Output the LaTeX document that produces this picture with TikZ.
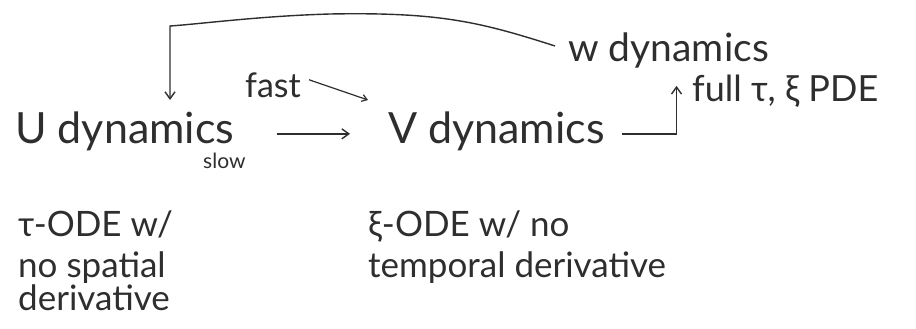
\documentclass[tikz,border=0pt]{standalone}
\usepackage{fontspec}
\setmainfont{Lato}
\usetikzlibrary{arrows.meta}
\definecolor{ink}{HTML}{2E2E2E}
\tikzset{
  lbl/.style={anchor=base west, inner sep=0pt, text=ink},
  big/.style={lbl, font=\fontsize{43}{45}\selectfont},
  mid/.style={lbl, font=\fontsize{36}{38}\selectfont},
  note/.style={lbl, font=\fontsize{35}{40}\selectfont},
  con/.style={draw=ink, line width=1.4pt, -{Straight Barb[length=7pt,width=10pt]}},
}
\begin{document}
\begin{tikzpicture}[x=1pt, y=-1pt]
\useasboundingbox (0,0) rectangle (916,329);
% main nodes
\node[big] (u) at (15,143) {U dynamics};
\node[lbl, font=\fontsize{21}{23}\selectfont] (slow) at (203,168) {slow};
\node[big] (v) at (388,143) {V dynamics};
\node[lbl, font=\fontsize{39}{41}\selectfont] (w) at (568,62) {w dynamics};
\node[mid, font=\fontsize{34}{36}\selectfont] (fast) at (245,98) {fast};
\node[mid] (pde) at (692,102) {full τ, ξ PDE};
% annotations
\node[note] (ua) at (18,236) {τ-ODE w/};
\node[note] (ub) at (18,277) {no spatial};
\node[note] (uc) at (18,310) {derivative};
\node[note] (va) at (368,236) {ξ-ODE w/ no};
\node[note] (vb) at (368,277) {temporal derivative};
% connectors
\coordinate (uin) at (170,100);
\coordinate (fastend) at (368,100);
\draw[con] ([xshift=43pt,yshift=-3pt]u.east) -- ([xshift=-38pt,yshift=-3pt]v.west);
\draw[con] ([xshift=17pt,yshift=-3pt]v.east) -| ([xshift=8pt,yshift=-17pt]w.south);
\draw[con] ([xshift=-13pt,yshift=5pt]w.west) .. controls (480,22) and (440,12) .. (330,14) .. controls (260,16) and (200,24) .. (170,26) -- (uin);
\draw[draw=ink, line width=1.2pt, -{Straight Barb[length=5pt,width=7pt]}] ([xshift=8pt,yshift=6pt]fast.east) -- (fastend);
\end{tikzpicture}
\end{document}
